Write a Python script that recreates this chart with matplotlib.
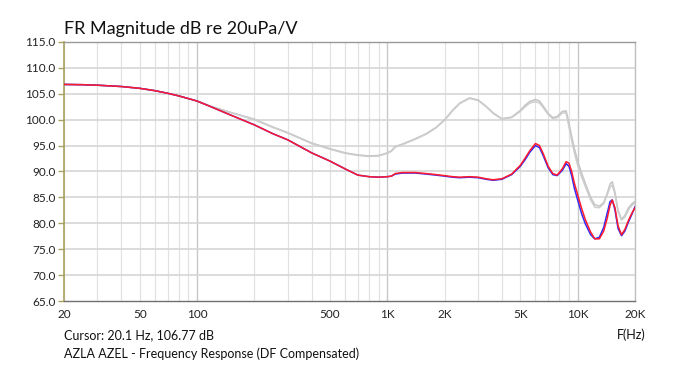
import numpy as np
import matplotlib
matplotlib.use("Agg")
import matplotlib.pyplot as plt
from matplotlib.ticker import FixedLocator, NullFormatter

plt.rcParams["font.family"] = ["Lato", "DejaVu Sans"]

# frequency points (Hz)
freqs = [20, 25, 30, 40, 50, 60, 70, 80, 100, 120, 150, 200, 250, 300, 400,
         500, 600, 700, 800, 900, 1000, 1050, 1100, 1200, 1400, 1600, 1800,
         2000, 2200, 2400, 2700, 3000, 3300, 3600, 4000, 4500, 5000, 5300,
         5600, 6000, 6300, 6600, 7000, 7400, 7800, 8300, 8700, 9000, 9300,
         9600, 10000, 10500, 11000, 11700, 12300, 13000, 13700, 14300, 14800,
         15200, 15700, 16300, 17000, 17700, 18500, 19300, 20000]

# compensated, right channel (red)
red_db = [106.8, 106.75, 106.65, 106.4, 106.05, 105.6, 105.1, 104.6, 103.6,
          102.4, 100.9, 99.0, 97.3, 96.1, 93.6, 92.0, 90.5, 89.3, 89.0, 88.9,
          89.0, 89.1, 89.6, 89.8, 89.8, 89.6, 89.4, 89.2, 89.0, 88.9, 89.0,
          88.9, 88.6, 88.4, 88.6, 89.5, 91.2, 92.6, 94.0, 95.4, 95.0, 93.4,
          91.0, 89.6, 89.3, 90.5, 91.9, 91.6, 90.0, 87.8, 85.5, 82.8, 80.6,
          78.3, 77.0, 77.0, 78.5, 81.0, 83.5, 84.5, 83.0, 79.5, 77.8, 78.8,
          80.6, 82.0, 83.0]

# compensated, left channel (blue)
blue_db = [106.8, 106.75, 106.65, 106.4, 106.05, 105.6, 105.1, 104.6, 103.6,
           102.4, 100.9, 99.0, 97.3, 96.1, 93.6, 92.0, 90.5, 89.3, 89.0, 88.9,
           89.0, 89.1, 89.5, 89.7, 89.7, 89.5, 89.3, 89.1, 88.9, 88.8, 88.9,
           88.8, 88.5, 88.3, 88.5, 89.4, 91.0, 92.3, 93.7, 95.0, 94.6, 93.0,
           90.7, 89.4, 89.2, 90.2, 91.5, 91.0, 89.2, 86.8, 84.5, 81.8, 79.8,
           77.8, 77.0, 77.3, 79.2, 82.0, 84.2, 84.5, 82.6, 79.0, 77.6, 78.5,
           80.3, 81.8, 83.2]

# raw measurements (grey)
grey1_db = [106.8, 106.75, 106.65, 106.4, 106.05, 105.6, 105.1, 104.6, 103.6,
            102.5, 101.4, 100.1, 98.6, 97.5, 95.5, 94.4, 93.6, 93.2, 93.0,
            93.1, 93.6, 94.0, 94.8, 95.3, 96.3, 97.3, 98.5, 100.0, 101.8,
            103.2, 104.2, 103.8, 102.6, 101.3, 100.2, 100.5, 101.8, 102.8,
            103.5, 103.9, 103.6, 102.6, 101.2, 100.4, 100.6, 101.6, 101.7,
            99.3, 96.8, 94.5, 92.0, 89.6, 87.6, 85.0, 83.6, 83.3, 84.0, 85.8,
            87.6, 88.0, 86.0, 82.5, 80.8, 81.5, 83.0, 83.8, 84.2]

grey2_db = [106.8, 106.75, 106.65, 106.4, 106.05, 105.6, 105.1, 104.6, 103.6,
            102.5, 101.4, 100.0, 98.5, 97.4, 95.4, 94.3, 93.5, 93.1, 92.9,
            93.0, 93.5, 93.9, 94.7, 95.2, 96.2, 97.2, 98.4, 99.9, 101.7,
            103.1, 104.1, 103.7, 102.5, 101.2, 100.1, 100.4, 101.6, 102.5,
            103.2, 103.5, 103.2, 102.3, 101.0, 100.2, 100.4, 101.3, 101.3,
            98.6, 96.0, 93.7, 91.2, 88.9, 87.0, 84.5, 83.1, 83.0, 83.8, 85.5,
            87.0, 87.4, 85.6, 82.2, 80.6, 81.2, 82.6, 83.5, 83.9]

y_ticks = [65, 70, 75, 80, 85, 90, 95, 100, 105, 110, 115]
x_ticks = [20, 50, 100, 500, 1000, 2000, 5000, 10000, 20000]
x_labels = ["20", "50", "100", "500", "1K", "2K", "5K", "10K", "20K"]

fig = plt.figure(figsize=(7, 3.68), dpi=100)
ax = fig.add_axes([0.0914, 0.182, 0.8157, 0.704])

# log grid: minor lines light, decade lines a bit darker
minor = [m * d for d in (10, 100, 1000, 10000) for m in range(1, 10)
         if 20 <= m * d <= 20000]
for f in minor:
    if f in (100, 1000, 10000):
        ax.axvline(f, color="#c8c8c8", lw=1.0, zorder=0)
    else:
        ax.axvline(f, color="#e2e2e2", lw=0.9, zorder=0)
for v in y_ticks[1:-1]:
    ax.axhline(v, color="#d6d6d6", lw=1.2, zorder=0)

ax.plot(freqs, grey1_db, color="#c4c4c4", lw=1.1, zorder=2)
ax.plot(freqs, grey2_db, color="#cdcdcd", lw=1.1, zorder=2)
ax.plot(freqs, blue_db, color="#2b2bff", lw=1.1, zorder=3)
ax.plot(freqs, red_db, color="#ff1a2e", lw=1.1, zorder=4)

ax.set_xscale("log")
ax.set_xlim(20, 20000)
ax.set_ylim(65, 115)
ax.xaxis.set_major_locator(FixedLocator(x_ticks))
ax.xaxis.set_minor_locator(FixedLocator([]))
ax.xaxis.set_minor_formatter(NullFormatter())
ax.set_xticks(x_ticks)
ax.set_xticklabels(x_labels)
ax.set_yticks(y_ticks)
ax.set_yticklabels([f"{v:.1f}" for v in y_ticks])
ax.tick_params(axis="x", length=0, pad=6, labelsize=8.5, colors="#222222")
ax.tick_params(axis="y", length=4, width=1, color="#a8a060", pad=2,
               labelsize=8.5, colors="#222222")

ax.spines["left"].set_color("#a8a060")
ax.spines["left"].set_linewidth(1.2)
ax.spines["bottom"].set_color("#707070")
ax.spines["top"].set_color("#999999")
ax.spines["right"].set_color("#c0c0c0")
for s in ("bottom", "top", "right"):
    ax.spines[s].set_linewidth(1.0)

fig.text(0.0914, 0.922, "FR Magnitude dB re 20uPa/V", fontsize=13,
         color="#111111", ha="left", va="center")
fig.text(0.0914, 0.090, "Cursor: 20.1 Hz, 106.77 dB", fontsize=9,
         color="#111111", ha="left", va="center")
fig.text(0.922, 0.090, "F(Hz)", fontsize=9, color="#111111",
         ha="right", va="center")
fig.text(0.0914, 0.040, "AZLA AZEL - Frequency Response (DF Compensated)",
         fontsize=9, color="#111111", ha="left", va="center")

fig.savefig("out.png", dpi=100)
